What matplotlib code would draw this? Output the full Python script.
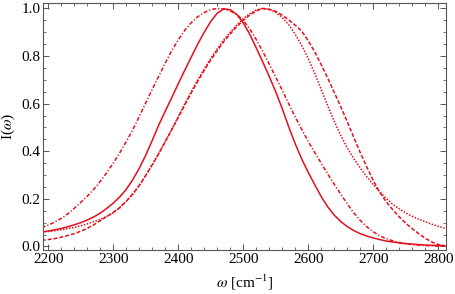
import numpy as np
import matplotlib
matplotlib.use('Agg')
import matplotlib.pyplot as plt
from matplotlib.ticker import MultipleLocator

# frequency grid (cm^-1) and the four spectra
omega = list(range(2190, 2811, 10))

solid = [0.061, 0.065, 0.070, 0.076, 0.083, 0.091, 0.100, 0.111, 0.124, 0.140,
         0.160, 0.182, 0.208, 0.240, 0.280, 0.328, 0.383, 0.445, 0.510, 0.568,
         0.625, 0.683, 0.740, 0.795, 0.850, 0.900, 0.945, 0.980, 0.998, 0.995,
         0.975, 0.940, 0.892, 0.835, 0.776, 0.715, 0.650, 0.580, 0.503, 0.432,
         0.368, 0.312, 0.260, 0.210, 0.167, 0.132, 0.105, 0.084, 0.067, 0.054,
         0.044, 0.036, 0.029, 0.023, 0.019, 0.015, 0.012, 0.010, 0.008, 0.006,
         0.005, 0.004, 0.003]

dashdot = [0.080, 0.090, 0.102, 0.118, 0.137, 0.160, 0.185, 0.211, 0.240, 0.273,
           0.310, 0.350, 0.393, 0.440, 0.490, 0.545, 0.603, 0.660, 0.715, 0.770,
           0.822, 0.868, 0.908, 0.940, 0.965, 0.983, 0.995, 1.000, 0.998, 0.990,
           0.975, 0.950, 0.915, 0.870, 0.820, 0.767, 0.712, 0.657, 0.600, 0.545,
           0.492, 0.442, 0.395, 0.350, 0.305, 0.262, 0.220, 0.180, 0.142, 0.110,
           0.083, 0.062, 0.045, 0.033, 0.024, 0.017, 0.012, 0.008, 0.006, 0.004,
           0.003, 0.002, 0.001]

dotted = [0.061, 0.063, 0.066, 0.070, 0.075, 0.080, 0.087, 0.095, 0.104, 0.114,
          0.126, 0.142, 0.163, 0.190, 0.220, 0.256, 0.298, 0.343, 0.390, 0.440,
          0.492, 0.545, 0.598, 0.650, 0.700, 0.746, 0.790, 0.830, 0.868, 0.900,
          0.930, 0.957, 0.978, 0.994, 1.000, 0.996, 0.984, 0.962, 0.932, 0.892,
          0.845, 0.790, 0.728, 0.660, 0.592, 0.527, 0.467, 0.415, 0.370, 0.330,
          0.294, 0.261, 0.230, 0.202, 0.178, 0.158, 0.141, 0.127, 0.115, 0.104,
          0.094, 0.085, 0.077]

dashed = [0.026, 0.029, 0.033, 0.039, 0.046, 0.054, 0.064, 0.076, 0.091, 0.108,
          0.126, 0.143, 0.163, 0.190, 0.220, 0.256, 0.298, 0.343, 0.390, 0.440,
          0.490, 0.542, 0.594, 0.645, 0.694, 0.740, 0.783, 0.823, 0.860, 0.893,
          0.923, 0.950, 0.972, 0.989, 1.000, 0.997, 0.988, 0.972, 0.952, 0.930,
          0.905, 0.865, 0.818, 0.765, 0.708, 0.648, 0.588, 0.525, 0.460, 0.395,
          0.335, 0.278, 0.228, 0.188, 0.155, 0.125, 0.098, 0.075, 0.054, 0.035,
          0.019, 0.008, 0.004]

red = '#e3101c'
frame = '#555555'

plt.rcParams['font.family'] = ['Liberation Serif', 'DejaVu Serif']
plt.rcParams['mathtext.fontset'] = 'stix'

fig = plt.figure(figsize=(4.56, 2.94), dpi=100)
ax = fig.add_axes([0.0943, 0.1497, 0.978 - 0.0943, 0.9898 - 0.1497])

ax.plot(omega, solid, color=red, lw=1.1, ls='-')
ax.plot(omega, dashdot, color=red, lw=1.1, ls=(0, (2.6, 1.3, 0.8, 1.3)))
ax.plot(omega, dotted, color=red, lw=1.1, ls=(0, (1.0, 1.0)))
ax.plot(omega, dashed, color=red, lw=1.1, ls=(0, (2.6, 1.3)))

ax.set_xlim(2192, 2812)
ax.set_ylim(-0.0147, 1.023)

ax.xaxis.set_major_locator(MultipleLocator(100))
ax.xaxis.set_minor_locator(MultipleLocator(20))
ax.yaxis.set_major_locator(MultipleLocator(0.2))
ax.yaxis.set_minor_locator(MultipleLocator(0.05))
ax.yaxis.set_major_formatter(plt.FuncFormatter(lambda v, p: f'{v:.1f}'))

ax.tick_params(which='both', direction='in', top=True, right=True,
               color=frame, labelsize=11, pad=2)
ax.tick_params(which='major', length=4.5, width=0.7)
ax.tick_params(which='minor', length=2.3, width=0.6)
for s in ax.spines.values():
    s.set_color(frame)
    s.set_linewidth(0.8)

ax.set_xlabel(r'$\omega$ [cm$^{-1}$]', fontsize=11, labelpad=5)
ax.set_ylabel(r'I($\omega$)', fontsize=11, labelpad=3)

fig.savefig('out.png', dpi=100)
